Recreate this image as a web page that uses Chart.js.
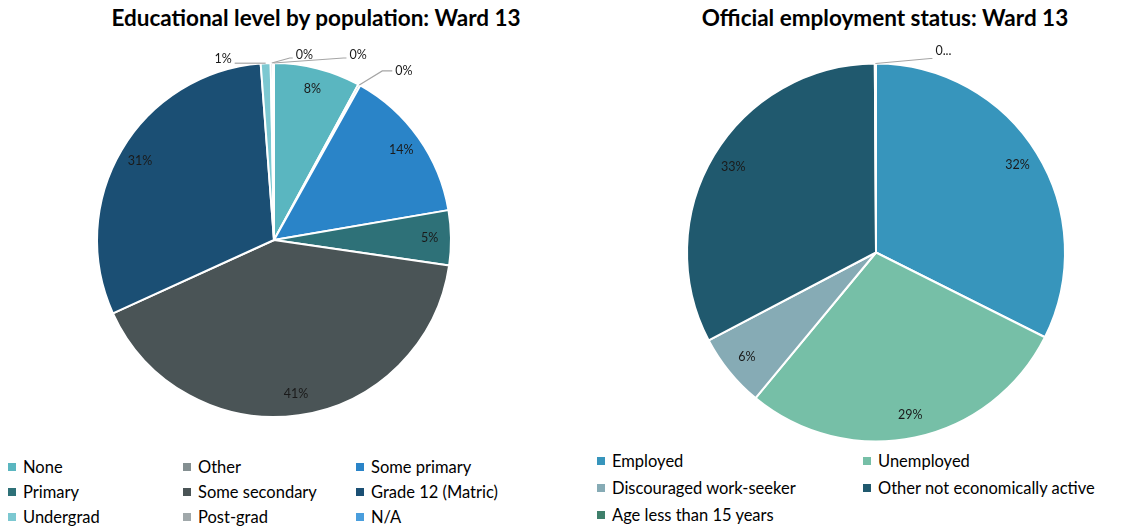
<!DOCTYPE html>
<html>
<head>
<meta charset="utf-8">
<script src="https://cdn.jsdelivr.net/npm/chart.js@4/dist/chart.umd.min.js"></script>
<style>
  html, body { margin: 0; padding: 0; background: #fff; }
  body { width: 1147px; height: 529px; position: relative; overflow: hidden; font-family: Lato, "Open Sans", sans-serif; }
  .title { position: absolute; top: 4px; height: 28px; line-height: 28px; text-align: center;
           font-weight: 700; font-size: 22.5px; color: #000; white-space: nowrap; }
  .wrap { position: absolute; top: 0; height: 445px; }
  .legend { position: absolute; display: grid; color: #000; font-size: 16.5px; }
  .legend .item { display: flex; align-items: center; white-space: nowrap; height: 25px; }
  .legend .sw { width: 8px; height: 8px; margin-right: 7px; flex: none; }
</style>
</head>
<body>
<div class="title" style="left:0;width:632px">Educational level by population: Ward 13</div>
<div class="title" style="left:585px;width:600px">Official employment status: Ward 13</div>
<div class="wrap" style="left:0;width:560px"><canvas id="eduChart"></canvas></div>
<div class="wrap" style="left:575px;width:572px"><canvas id="empChart"></canvas></div>
<div class="legend" id="eduLegend" style="left:8px;top:454px;grid-template-columns:175px 173px 190px"></div>
<div class="legend" id="empLegend" style="left:597px;top:448px;grid-template-columns:266px 290px;row-gap:2px"></div>
<script>
// Educational level shares (% of population)
const eduLabels = ['None', 'Other', 'Some primary', 'Primary', 'Some secondary',
                   'Grade 12 (Matric)', 'Undergrad', 'Post-grad', 'N/A'];
const eduShares = [7.9, 0.2, 14.2, 5.0, 40.9, 30.6, 0.9, 0.2, 0.1];
const eduColors = ['#5ab6c0', '#848f91', '#2a84c8', '#2e7178', '#4a5456',
                   '#1b4f74', '#7cc8d1', '#a0a8aa', '#4a9edd'];

// Official employment status shares (%)
const empLabels = ['Employed', 'Unemployed', 'Discouraged work-seeker',
                   'Other not economically active', 'Age less than 15 years'];
const empShares = [32.4, 28.6, 6.3, 32.6, 0.1];
const empColors = ['#3795bc', '#76bfa7', '#86abb5', '#20596e', '#3e7f6b'];

// Leader-line labels for the thin slices: label edge offset from the rim point
const eduCallouts = {
  1: { dx: 33, dy: -14, side: 1, elbow: 10, textDy: 0 },
  6: { dx: -31, dy: 0, side: -1, elbow: 0, textDy: -4 },
  7: { dx: 21, dy: -5, side: 1, elbow: 3, textDy: -3 },
  8: { dx: 73, dy: -5, side: 1, elbow: 3, textDy: -3 }
};
const empCallouts = {
  4: { dx: 57, dy: -5, side: 1, elbow: 2, textDy: -8, truncate: true }
};

const pieLabels = {
  id: 'pieLabels',
  afterDatasetsDraw(chart, args, opts) {
    const ctx = chart.ctx;
    const meta = chart.getDatasetMeta(0);
    const values = chart.data.datasets[0].data;
    const total = values.reduce((a, b) => a + b, 0);
    ctx.save();
    ctx.font = '12.5px Lato, "Open Sans", sans-serif';
    ctx.fillStyle = '#1a1a1a';
    meta.data.forEach((arc, i) => {
      const p = arc.getProps(['x', 'y', 'startAngle', 'endAngle', 'outerRadius'], true);
      const mid = (p.startAngle + p.endAngle) / 2;
      let text = Math.round(values[i] / total * 100) + '%';
      const c = opts.callouts[i];
      if (c) {
        if (c.truncate) text = text.charAt(0) + '...';
        const ax = p.x + Math.cos(mid) * p.outerRadius;
        const ay = p.y + Math.sin(mid) * p.outerRadius;
        const ex = ax + c.dx, ey = ay + c.dy;
        ctx.strokeStyle = '#a5a5a5';
        ctx.lineWidth = 1.2;
        ctx.beginPath();
        ctx.moveTo(ax, ay);
        ctx.lineTo(ex - c.side * c.elbow, ey);
        ctx.lineTo(ex, ey);
        ctx.stroke();
        ctx.textAlign = c.side > 0 ? 'left' : 'right';
        ctx.textBaseline = 'middle';
        ctx.fillText(text, ex + c.side * 3, ey + c.textDy);
      } else {
        const r = p.outerRadius * opts.radiusFactor;
        ctx.textAlign = 'center';
        ctx.textBaseline = 'middle';
        ctx.fillText(text, p.x + Math.cos(mid) * r, p.y + Math.sin(mid) * r);
      }
    });
    ctx.restore();
  }
};

function makePie(id, labels, shares, colors, padding, callouts) {
  return new Chart(document.getElementById(id), {
    type: 'pie',
    data: {
      labels: labels,
      datasets: [{
        data: shares,
        backgroundColor: colors,
        borderColor: '#ffffff',
        borderWidth: 2
      }]
    },
    options: {
      responsive: true,
      maintainAspectRatio: false,
      animation: false,
      layout: { padding: padding },
      plugins: {
        legend: { display: false },
        tooltip: { enabled: false },
        pieLabels: { callouts: callouts, radiusFactor: 0.88 }
      }
    },
    plugins: [pieLabels]
  });
}

makePie('eduChart', eduLabels, eduShares, eduColors,
        { top: 62, bottom: 27, left: 96, right: 108 }, eduCallouts);
makePie('empChart', empLabels, empShares, empColors,
        { top: 62, bottom: 2, left: 111, right: 81 }, empCallouts);

function buildLegend(elId, labels, colors) {
  const el = document.getElementById(elId);
  labels.forEach((lab, i) => {
    const item = document.createElement('div');
    item.className = 'item';
    const sw = document.createElement('span');
    sw.className = 'sw';
    sw.style.background = colors[i];
    const tx = document.createElement('span');
    tx.textContent = lab;
    item.appendChild(sw);
    item.appendChild(tx);
    el.appendChild(item);
  });
}
buildLegend('eduLegend', eduLabels, eduColors);
buildLegend('empLegend', empLabels, empColors);
</script>
</body>
</html>
